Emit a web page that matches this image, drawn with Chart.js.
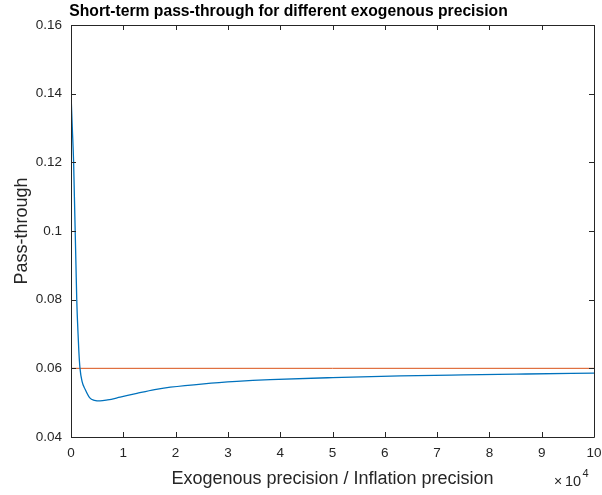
<!DOCTYPE html>
<html>
<head>
<meta charset="utf-8">
<script src="https://cdn.jsdelivr.net/npm/chart.js@4"></script>
<style>
  html, body { margin: 0; padding: 0; background: #fff; }
  #wrap { width: 602px; height: 495px; }
</style>
</head>
<body>
<div id="wrap"><canvas id="myChart" width="602" height="495"></canvas></div>
<script>
// values (x in units of 10^4)
var precX = [0, 0.025, 0.05, 0.065, 0.08, 0.095, 0.11, 0.135, 0.15, 0.172, 0.21, 0.27, 0.36, 0.45, 0.555, 0.7, 0.94, 1.26, 1.6, 1.9, 2.54, 3.17, 3.81, 5, 6.3, 7.5, 8.7, 10];
var passThrough = [0.14, 0.13, 0.12, 0.11, 0.10, 0.09, 0.08, 0.07, 0.065, 0.06, 0.0563, 0.0539, 0.0514, 0.0507, 0.0505, 0.0508, 0.0516, 0.0527, 0.0538, 0.0545, 0.0555, 0.0562, 0.0567, 0.0573, 0.0578, 0.0581, 0.05835, 0.0586];
var refX = [0, 10];
var refY = [0.06, 0.06];
var xTicks = ['0', '1', '2', '3', '4', '5', '6', '7', '8', '9', '10'];
var yTicks = ['0.04', '0.06', '0.08', '0.1', '0.12', '0.14', '0.16'];

var titleText = 'Short-term pass-through for different exogenous precision';
var axisCol = '#262626';
var fontFam = "'Liberation Sans', Arial, Helvetica, sans-serif";

function pts(xs, ys) {
  return xs.map(function (x, i) { return { x: x, y: ys[i] }; });
}

// title, box round the axes, inward ticks, and the x10^4 exponent
var matlabBox = {
  id: 'matlabBox',
  afterDraw: function (chart) {
    var c = chart.ctx, a = chart.chartArea;
    var xs = chart.scales.x, ys = chart.scales.y;
    c.save();
    c.strokeStyle = axisCol;
    c.lineWidth = 1;
    c.beginPath();
    c.rect(Math.round(a.left) + 0.5, Math.round(a.top) + 0.5, Math.round(a.right - a.left), Math.round(a.bottom - a.top));
    c.stroke();
    c.beginPath();
    xs.ticks.forEach(function (t) {
      var px = Math.round(xs.getPixelForValue(t.value)) + 0.5;
      c.moveTo(px, a.bottom); c.lineTo(px, a.bottom - 5);
      c.moveTo(px, a.top); c.lineTo(px, a.top + 5);
    });
    ys.ticks.forEach(function (t) {
      var py = Math.round(ys.getPixelForValue(t.value)) + 0.5;
      c.moveTo(a.left, py); c.lineTo(a.left + 5, py);
      c.moveTo(a.right, py); c.lineTo(a.right - 5, py);
    });
    c.stroke();

    c.fillStyle = '#000';
    c.textAlign = 'center';
    c.textBaseline = 'alphabetic';
    c.font = 'bold 15.7px ' + fontFam;
    c.fillText(titleText, 288.5, 16);

    c.fillStyle = axisCol;
    c.textAlign = 'left';
    c.font = '14px ' + fontFam;
    c.fillText('\u00d7', 554, 486);
    c.font = '14.5px ' + fontFam;
    c.fillText('10', 565, 486);
    c.font = '11px ' + fontFam;
    c.fillText('4', 582.5, 477);
    c.restore();
  }
};

var ctx = document.getElementById('myChart');
var myChart = new Chart(ctx, {
  type: 'line',
  data: {
    datasets: [{
      label: 'pass-through',
      data: pts(precX, passThrough),
      borderColor: '#0072BD',
      borderWidth: 1.3,
      pointRadius: 0,
      fill: false,
      cubicInterpolationMode: 'monotone'
    }, {
      label: 'reference',
      data: pts(refX, refY),
      borderColor: '#D95319',
      borderWidth: 1,
      pointRadius: 0,
      fill: false
    }]
  },
  options: {
    responsive: false,
    animation: false,
    layout: { padding: { top: 25, right: 0, left: 0, bottom: 0 } },
    plugins: {
      legend: { display: false },
      tooltip: { enabled: false },
      title: { display: false }
    },
    scales: {
      x: {
        type: 'linear',
        min: 0,
        max: 10,
        grid: { display: false, drawTicks: false },
        border: { display: false },
        ticks: {
          stepSize: 1,
          padding: 8,
          color: axisCol,
          font: { family: fontFam, size: 13.5 },
          maxRotation: 0,
          callback: function (v) { return xTicks[Math.round(v)]; }
        },
        title: {
          display: true,
          text: 'Exogenous precision / Inflation precision',
          color: axisCol,
          font: { family: fontFam, size: 18 },
          padding: { top: 0, bottom: 5 }
        },
        afterFit: function (s) { s.height = 58; s.paddingRight = 8; s.paddingLeft = 0; }
      },
      y: {
        type: 'linear',
        min: 0.04,
        max: 0.16,
        grid: { display: false, drawTicks: false },
        border: { display: false },
        ticks: {
          stepSize: 0.02,
          padding: 9,
          color: axisCol,
          font: { family: fontFam, size: 13.5 },
          callback: function (v) { return yTicks[Math.round((v - 0.04) / 0.02)]; }
        },
        title: {
          display: true,
          text: 'Pass-through',
          color: axisCol,
          font: { family: fontFam, size: 18 },
          padding: { top: 11, bottom: 0 }
        },
        afterFit: function (s) { s.width = 71; }
      }
    }
  },
  plugins: [matlabBox]
});
</script>
</body>
</html>
